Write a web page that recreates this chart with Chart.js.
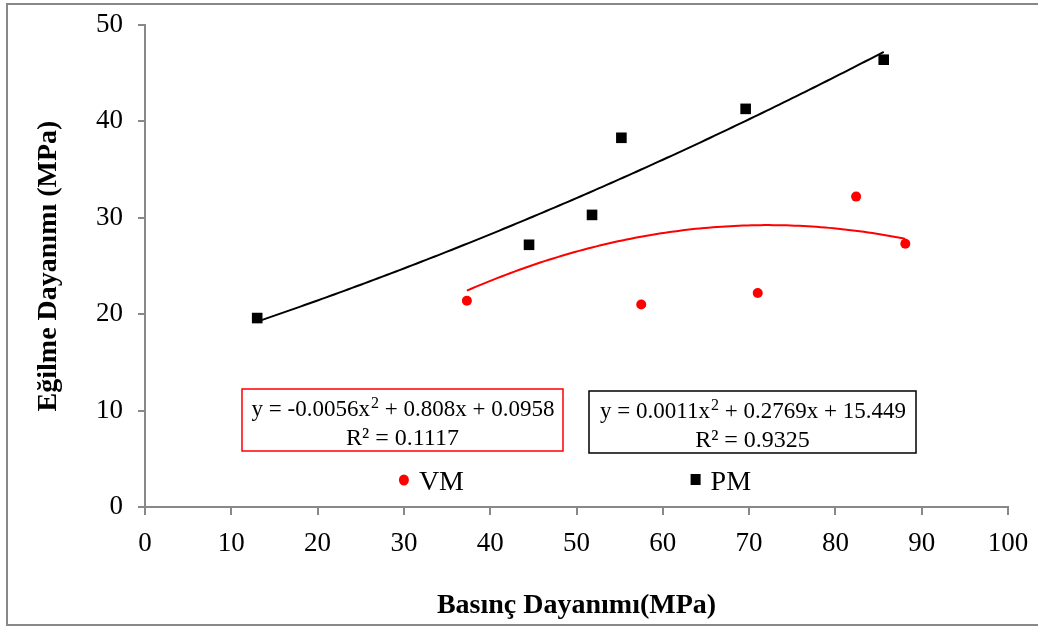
<!DOCTYPE html>
<html>
<head>
<meta charset="utf-8">
<script src="https://cdn.jsdelivr.net/npm/chart.js@4.4.1/dist/chart.umd.min.js"></script>
<style>
html, body { margin: 0; padding: 0; background: #fff; }
</style>
</head>
<body>
<canvas id="chart" width="1038" height="628"></canvas>
<script>
// VM - red circles
let vmX = [37.3, 57.5, 71.0, 82.4, 88.1];
let vmY = [21.4, 21.0, 22.2, 32.2, 27.3];
// PM - black squares
let pmX = [13.0, 44.5, 51.8, 55.2, 69.6, 85.6];
let pmY = [19.6, 27.2, 30.3, 38.3, 41.3, 46.4];
// polynomial trendlines, y = a*x^2 + b*x + c  -> [a, b, c]
let vmFit = [-0.0056, 0.808, 0.0958];
let pmFit = [0.0011, 0.2769, 15.449];
// equation labels
let vmEq = ['y = -0.0056x', '2', ' + 0.808x + 0.0958'];
let vmR2 = 'R\u00b2 = 0.1117';
let pmEq = ['y = 0.0011x', '2', ' + 0.2769x + 15.449'];
let pmR2 = 'R\u00b2 = 0.9325';
let xTicks = [0, 10, 20, 30, 40, 50, 60, 70, 80, 90, 100];
let yTicks = [0, 10, 20, 30, 40, 50];

const FONT = '"Liberation Serif", "Times New Roman", serif';
const AXIS = '#888888';

function pts(xs, ys){
    return xs.map((x, i) => ({x: x, y: ys[i]}));
}

//trendline from the coefficients printed on the chart
function trend(fit, xs){
    let lo = Math.min(...xs), hi = Math.max(...xs);
    let out = [];
    for(let x = lo; x < hi; x += 0.5){
        out.push({x: x, y: fit[0]*x*x + fit[1]*x + fit[2]});
    }
    out.push({x: hi, y: fit[0]*hi*hi + fit[1]*hi + fit[2]});
    return out;
}

//draws "y = ...x² + ..." with a raised small 2
function drawEq(ctx, parts, cx, y, size){
    let small = Math.round(size*0.7);
    ctx.font = `${size}px ${FONT}`;
    let w0 = ctx.measureText(parts[0]).width;
    let w2 = ctx.measureText(parts[2]).width;
    ctx.font = `${small}px ${FONT}`;
    let w1 = ctx.measureText(parts[1]).width;
    let x = cx - (w0 + w1 + w2)/2;
    ctx.textAlign = 'left';
    ctx.textBaseline = 'alphabetic';
    ctx.font = `${size}px ${FONT}`;
    ctx.fillText(parts[0], x, y);
    ctx.font = `${small}px ${FONT}`;
    ctx.fillText(parts[1], x + w0 + 1, y - size*0.36);
    ctx.font = `${size}px ${FONT}`;
    ctx.fillText(parts[2], x + w0 + w1 + 1, y);
}

const extras = {
    id: 'extras',
    beforeDraw(chart){
        let ctx = chart.ctx;
        ctx.save();
        ctx.fillStyle = '#fff';
        ctx.fillRect(0, 0, chart.width, chart.height);
        ctx.strokeStyle = AXIS;
        ctx.lineWidth = 2;
        ctx.strokeRect(7, 4, 1040, 621);
        ctx.restore();
    },
    afterDraw(chart){
        let ctx = chart.ctx;
        let xs = chart.scales.x, ys = chart.scales.y;
        ctx.save();
        //equation boxes
        let boxes = [
            {eq: vmEq, r2: vmR2, color: '#ff0000', l: 242, t: 389, r: 563, b: 451},
            {eq: pmEq, r2: pmR2, color: '#000000', l: 589, t: 391, r: 916, b: 453}
        ];
        boxes.forEach(bx => {
            ctx.strokeStyle = bx.color;
            ctx.lineWidth = 1.5;
            ctx.strokeRect(bx.l, bx.t, bx.r - bx.l, bx.b - bx.t);
            ctx.fillStyle = '#000';
            let cx = (bx.l + bx.r)/2;
            drawEq(ctx, bx.eq, cx, bx.t + 27, 23);
            ctx.font = `24px ${FONT}`;
            ctx.textAlign = 'center';
            ctx.fillText(bx.r2, cx, bx.t + 56);
        });
        //legend inside the plot
        let items = [
            {text: 'VM', ds: 0, x: 30},
            {text: 'PM', ds: 1, x: 63.8}
        ];
        items.forEach(it => {
            let ds = chart.data.datasets[it.ds];
            let px = xs.getPixelForValue(it.x);
            let py = ys.getPixelForValue(2.8);
            ctx.fillStyle = ds.backgroundColor;
            if(ds.pointStyle === 'rect'){
                ctx.fillRect(px - 5, py - 6, 10, 11);
            }
            else{
                ctx.beginPath();
                ctx.ellipse(px, py, 5, 5.5, 0, 0, Math.PI*2);
                ctx.fill();
            }
            ctx.fillStyle = '#000';
            ctx.font = `28px ${FONT}`;
            ctx.textAlign = 'left';
            ctx.textBaseline = 'middle';
            ctx.fillText(it.text, px + 15, py + 3);
        });
        ctx.restore();
    }
};

new Chart(document.querySelector('#chart'), {
    type: 'scatter',
    data: {
        datasets: [
            {
                label: 'VM',
                data: pts(vmX, vmY),
                pointStyle: 'circle',
                pointRadius: 5,
                backgroundColor: '#ff0000',
                borderColor: '#ff0000',
                borderWidth: 0
            },
            {
                label: 'PM',
                data: pts(pmX, pmY),
                pointStyle: 'rect',
                pointRadius: 7.5,
                backgroundColor: '#000000',
                borderColor: '#000000',
                borderWidth: 0
            },
            {
                type: 'line',
                label: 'VM trend',
                data: trend(vmFit, vmX),
                borderColor: '#ff0000',
                borderWidth: 2,
                pointRadius: 0,
                fill: false,
                tension: 0
            },
            {
                type: 'line',
                label: 'PM trend',
                data: trend(pmFit, pmX),
                borderColor: '#000000',
                borderWidth: 2,
                pointRadius: 0,
                fill: false,
                tension: 0
            }
        ]
    },
    options: {
        responsive: false,
        animation: false,
        layout: { padding: { left: 0, top: 25, right: 30, bottom: 0 } },
        plugins: {
            legend: { display: false },
            tooltip: { enabled: false }
        },
        scales: {
            x: {
                type: 'linear',
                min: 0,
                max: 100,
                afterBuildTicks: s => { s.ticks = xTicks.map(v => ({value: v})); },
                afterFit: s => { s.height = 121; s.paddingLeft = 0; s.paddingRight = 0; },
                grid: { drawOnChartArea: false, color: AXIS, tickLength: 8, lineWidth: 2 },
                border: { color: AXIS, width: 2 },
                ticks: { color: '#000', font: { family: FONT, size: 27 }, padding: 13, maxRotation: 0 },
                title: {
                    display: true,
                    text: 'Basınç Dayanımı(MPa)',
                    color: '#000',
                    font: { family: FONT, size: 28, weight: 'bold' },
                    padding: { top: 0, bottom: 5 }
                }
            },
            y: {
                type: 'linear',
                min: 0,
                max: 50,
                afterBuildTicks: s => { s.ticks = yTicks.map(v => ({value: v})); },
                afterFit: s => { s.width = 145; s.paddingTop = 0; s.paddingBottom = 0; },
                grid: { drawOnChartArea: false, color: AXIS, tickLength: 7, lineWidth: 2 },
                border: { color: AXIS, width: 2 },
                ticks: { color: '#000', font: { family: FONT, size: 27 }, padding: 15 },
                title: {
                    display: true,
                    text: 'Eğilme Dayanımı (MPa)',
                    color: '#000',
                    font: { family: FONT, size: 28, weight: 'bold' },
                    padding: { top: 32, bottom: 0 }
                }
            }
        }
    },
    plugins: [extras]
});
</script>
</body>
</html>
